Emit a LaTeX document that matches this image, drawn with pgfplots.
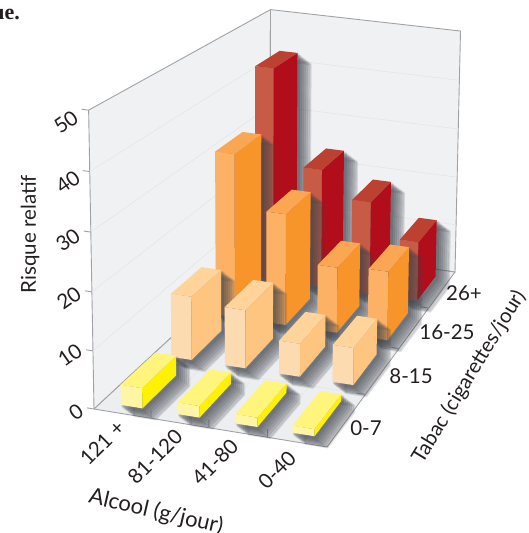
\documentclass[border=0pt]{standalone}
\usepackage{pgfplots}
\usepackage{fontspec}
\setmainfont{Lato}
\newfontfamily\serifb{Liberation Serif}
\pgfplotsset{compat=1.18}
\definecolor{txt}{HTML}{231F20}
\definecolor{wall}{HTML}{F0F1F3}
\definecolor{floorc}{HTML}{EDEEF0}
\definecolor{gridc}{HTML}{E4E6E9}
\definecolor{edge}{HTML}{A0A2A5}
\definecolor{shad}{HTML}{3F444C}
\definecolor{redF}{HTML}{C75B45}\definecolor{redR}{HTML}{B20D1A}\definecolor{redT}{HTML}{BC4130}
\definecolor{oraF}{HTML}{FDB164}\definecolor{oraR}{HTML}{F8952A}\definecolor{oraT}{HTML}{FBA653}
\definecolor{peaF}{HTML}{FDDBB1}\definecolor{peaR}{HTML}{FDC57F}\definecolor{peaT}{HTML}{FED49B}
\definecolor{yelF}{HTML}{FFF6A5}\definecolor{yelR}{HTML}{FFF200}\definecolor{yelT}{HTML}{FFF47C}
% a face: rows "a b z", a and b in 0..1 along the floor, z in the chart's own units
\newcommand\face[2]{\addplot[#1] table[row sep=\\,
    x expr={px(\thisrow{a},\thisrow{b},\thisrow{z})},
    y expr={py(\thisrow{a},\thisrow{b},\thisrow{z})}] {a b z\\ #2};}
\newcommand\sface[3]{\addplot[fill=shad,draw=shad,line width=2.2pt,line join=round,opacity=0.15] table[row sep=\\,
    x expr={px(\thisrow{a},\thisrow{b},\thisrow{z})+#1},
    y expr={py(\thisrow{a},\thisrow{b},\thisrow{z})+#2}] {a b z\\ #3};}
\newcommand\dbar[6]{% a0 a1 b0 b1 value colour
  \def\S##1##2{\sface{##1}{##2}{#1 #3 0\\ #2 #3 0\\ #2 #4 0\\ #2 #4 #5\\ #1 #4 #5\\ #1 #3 #5\\ #1 #3 0\\}}%
  \S{13}{11}\S{11}{9.5}\S{9}{8}\S{7}{6.5}\S{5}{5}\S{3}{3.5}\S{1.5}{2}%
  \face{fill=#6F,draw=none}{#1 #3 0\\ #2 #3 0\\ #2 #3 #5\\ #1 #3 #5\\}%
  \face{fill=#6R,draw=none}{#2 #3 0\\ #2 #4 0\\ #2 #4 #5\\ #2 #3 #5\\}%
  \face{fill=#6T,draw=none}{#1 #3 #5\\ #2 #3 #5\\ #2 #4 #5\\ #1 #4 #5\\}%
}
\newcommand\lab[4]{\node[text=txt,rotate=#3,inner sep=0pt,anchor=center,font=\fontsize{20.5}{23}\selectfont] at (axis cs:#1,#2) {#4};}
\begin{document}
\begin{tikzpicture}
\path[use as bounding box,clip] (0,0) rectangle (528pt,533pt);
\begin{axis}[
  at={(0,0)},anchor=south west,scale only axis,width=528pt,height=533pt,
  xmin=0,xmax=528,ymin=0,ymax=533,y dir=reverse,hide axis,clip=false,
  declare function={
    ww(\a,\b,\z)=1-0.027225*\a+0.2783*\b-0.033*\z/50;
    px(\a,\b,\z)=(224.097*\a+251.141*\b+94-8.3*\z/50)/ww(\a,\b,\z);
    py(\a,\b,\z)=(25.83*\a-94.538*\b+409-302.5*\z/50)/ww(\a,\b,\z);
  }]
% walls and floor
\face{fill=wall,draw=edge,line width=0.9pt}{0 0 0\\ 0 1 0\\ 0 1 50\\ 0 0 50\\ 0 0 0\\}
\face{fill=wall,draw=edge,line width=0.9pt}{0 1 0\\ 1 1 0\\ 1 1 50\\ 0 1 50\\ 0 1 0\\}
\face{fill=floorc,draw=edge,line width=0.9pt}{0 0 0\\ 1 0 0\\ 1 1 0\\ 0 1 0\\ 0 0 0\\}
% grid
\face{draw=gridc,line width=0.6pt}{0 0 10\\ 0 1 10\\ 1 1 10\\}
\face{draw=gridc,line width=0.6pt}{0 0 20\\ 0 1 20\\ 1 1 20\\}
\face{draw=gridc,line width=0.6pt}{0 0 30\\ 0 1 30\\ 1 1 30\\}
\face{draw=gridc,line width=0.6pt}{0 0 40\\ 0 1 40\\ 1 1 40\\}
\face{draw=gridc,line width=0.6pt}{0.25 0 0\\ 0.25 1 0\\}
\face{draw=gridc,line width=0.6pt}{0.5 0 0\\ 0.5 1 0\\}
\face{draw=gridc,line width=0.6pt}{0.75 0 0\\ 0.75 1 0\\}
\face{draw=gridc,line width=0.6pt}{0 0.25 0\\ 1 0.25 0\\}
\face{draw=gridc,line width=0.6pt}{0 0.5 0\\ 1 0.5 0\\}
\face{draw=gridc,line width=0.6pt}{0 0.75 0\\ 1 0.75 0\\}
% ticks
\face{draw=edge,line width=0.9pt}{0 0 0\\ -0.03 0 0\\}
\face{draw=edge,line width=0.9pt}{0 0 10\\ -0.03 0 10\\}
\face{draw=edge,line width=0.9pt}{0 0 20\\ -0.03 0 20\\}
\face{draw=edge,line width=0.9pt}{0 0 30\\ -0.03 0 30\\}
\face{draw=edge,line width=0.9pt}{0 0 40\\ -0.03 0 40\\}
\face{draw=edge,line width=0.9pt}{0 0 50\\ -0.03 0 50\\}
\face{draw=edge,line width=0.9pt}{0.25 0 0\\ 0.25 0 1.4\\}
\face{draw=edge,line width=0.9pt}{0.5 0 0\\ 0.5 0 1.4\\}
\face{draw=edge,line width=0.9pt}{0.75 0 0\\ 0.75 0 1.4\\}
\face{draw=edge,line width=0.9pt}{1 0.25 0\\ 0.96 0.25 0\\}
\face{draw=edge,line width=0.9pt}{1 0.5 0\\ 0.96 0.5 0\\}
\face{draw=edge,line width=0.9pt}{1 0.75 0\\ 0.96 0.75 0\\}
% bars: a0 a1 b0 b1 relative risk colour
\dbar{0.085}{0.18}{0.785}{0.953}{42.7}{red}
\dbar{0.335}{0.43}{0.785}{0.953}{23.7}{red}
\dbar{0.585}{0.68}{0.785}{0.953}{18.5}{red}
\dbar{0.829}{0.923}{0.785}{0.953}{11.8}{red}
\dbar{0.085}{0.18}{0.535}{0.703}{31.4}{ora}
\dbar{0.335}{0.43}{0.535}{0.703}{21.3}{ora}
\dbar{0.585}{0.68}{0.535}{0.703}{12.5}{ora}
\dbar{0.829}{0.923}{0.535}{0.703}{13.1}{ora}
\dbar{0.085}{0.18}{0.285}{0.453}{11.6}{pea}
\dbar{0.335}{0.43}{0.285}{0.453}{10.6}{pea}
\dbar{0.585}{0.68}{0.285}{0.453}{6.0}{pea}
\dbar{0.829}{0.923}{0.285}{0.453}{6.7}{pea}
\dbar{0.085}{0.18}{0.035}{0.203}{3.5}{yel}
\dbar{0.335}{0.43}{0.035}{0.203}{2.0}{yel}
\dbar{0.585}{0.68}{0.035}{0.203}{1.6}{yel}
\dbar{0.829}{0.923}{0.035}{0.203}{1.2}{yel}
% texts
\lab{66}{122}{35}{50}
\lab{68}{182}{35}{40}
\lab{68}{240}{35}{30}
\lab{69}{298}{35}{20}
\lab{70}{355}{35}{10}
\lab{76}{412}{35}{0}
\lab{30}{234}{90}{Risque relatif}
\lab{102}{443}{45}{121 +}
\lab{155}{457}{45}{81-120}
\lab{215}{462}{45}{41-80}
\lab{277}{470}{45}{0-40}
\lab{156}{512}{-13}{\fontsize{22}{24}\selectfont Alcool (g/jour)}
\lab{464}{293}{0}{26+}
\lab{447}{332}{0}{16-25}
\lab{411}{376}{0}{8-15}
\lab{366}{428}{0}{0-7}
\lab{469}{377}{58.6}{Tabac (cigarettes/jour)}
\node[text=txt,anchor=base east,inner sep=0pt,font=\serifb\bfseries\fontsize{22}{24}\selectfont] at (axis cs:20,19) {ue.};
\end{axis}
\end{tikzpicture}
\end{document}
